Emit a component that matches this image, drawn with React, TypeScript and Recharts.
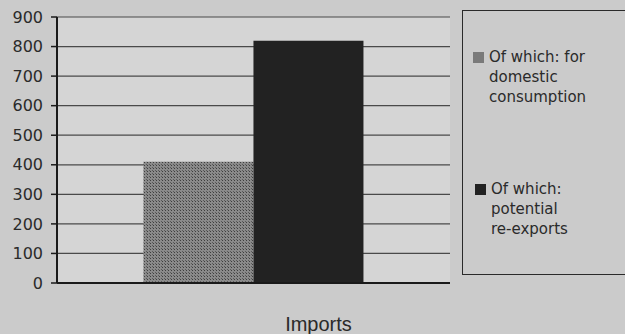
import React from "react";
import { BarChart, Bar, XAxis, YAxis, CartesianGrid } from "recharts";

const categories = ["Imports"];
const domesticConsumption = [410];
const potentialReExports = [820];
const yTicks = [0, 100, 200, 300, 400, 500, 600, 700, 800, 900];

const data = categories.map((name, i) => ({
  name,
  domestic: domesticConsumption[i],
  reExports: potentialReExports[i],
}));

const legendRows = [
  { key: "domestic", swatch: "#7a7a7a", lines: ["Of which: for", "domestic", "consumption"], top: 36, left: 10 },
  { key: "reExports", swatch: "#222222", lines: ["Of which:", "potential", "re-exports"], top: 168, left: 12 },
];

function LegendBox() {
  return (
    <div
      style={{
        position: "absolute",
        left: 462,
        top: 10,
        width: 175,
        height: 265,
        border: "1.5px solid #2a2a2a",
        boxSizing: "border-box",
        fontFamily: "'DejaVu Sans', sans-serif",
        fontSize: 15,
        lineHeight: "20px",
        color: "#2a2a2a",
      }}
    >
      {legendRows.map((row) => (
        <div key={row.key} style={{ position: "absolute", left: row.left, top: row.top, display: "flex" }}>
          <div style={{ width: 11, height: 11, background: row.swatch, marginTop: 5, marginRight: 5 }} />
          <div>
            {row.lines.map((l) => (
              <div key={l}>{l}</div>
            ))}
          </div>
        </div>
      ))}
    </div>
  );
}

function ImportsTick(props: any) {
  const { x, y, payload } = props;
  return (
    <text
      x={x + 65}
      y={y + 40}
      textAnchor="middle"
      fontFamily="'Liberation Sans', Arial, sans-serif"
      fontSize={20}
      fill="#2a2a2a"
    >
      {payload.value}
    </text>
  );
}

export default function App() {
  return (
    <div style={{ position: "absolute", left: 0, top: 0, width: 625, height: 334, background: "#cbcbcb", overflow: "hidden" }}>
      <BarChart
        width={625}
        height={334}
        data={data}
        margin={{ top: 17, right: 175, left: 0, bottom: 0 }}
        barCategoryGap="22%"
        barGap={0}
      >
        <defs>
          <pattern id="dots" width={3} height={3} patternUnits="userSpaceOnUse">
            <rect width={3} height={3} fill="#8a8a8a" />
            <rect width={1} height={1} fill="#3e3e3e" />
            <rect x={2} y={2} width={1} height={1} fill="#5a5a5a" />
          </pattern>
        </defs>
        <CartesianGrid vertical={false} stroke="#4a4a4a" strokeWidth={1.2} fill="#d5d5d5" />
        <XAxis
          dataKey="name"
          axisLine={{ stroke: "#1a1a1a", strokeWidth: 2 }}
          tickLine={false}
          tick={<ImportsTick />}
          height={51}
        />
        <YAxis
          domain={[0, 900]}
          ticks={yTicks}
          interval={0}
          width={57}
          axisLine={{ stroke: "#1a1a1a", strokeWidth: 2 }}
          tickLine={{ stroke: "#1a1a1a", strokeWidth: 1.5 }}
          tickSize={6}
          tickMargin={8}
          tick={{ fontFamily: "'DejaVu Sans', sans-serif", fontSize: 16, fill: "#2a2a2a" }}
        />
        <YAxis
          yAxisId="frame"
          orientation="right"
          domain={[0, 900]}
          width={0}
          tick={false}
          tickLine={false}
          axisLine={{ stroke: "#2a2a2a", strokeWidth: 1.5 }}
        />
        <Bar dataKey="domestic" fill="url(#dots)" isAnimationActive={false} />
        <Bar dataKey="reExports" fill="#222222" isAnimationActive={false} />
      </BarChart>
      <LegendBox />
    </div>
  );
}
